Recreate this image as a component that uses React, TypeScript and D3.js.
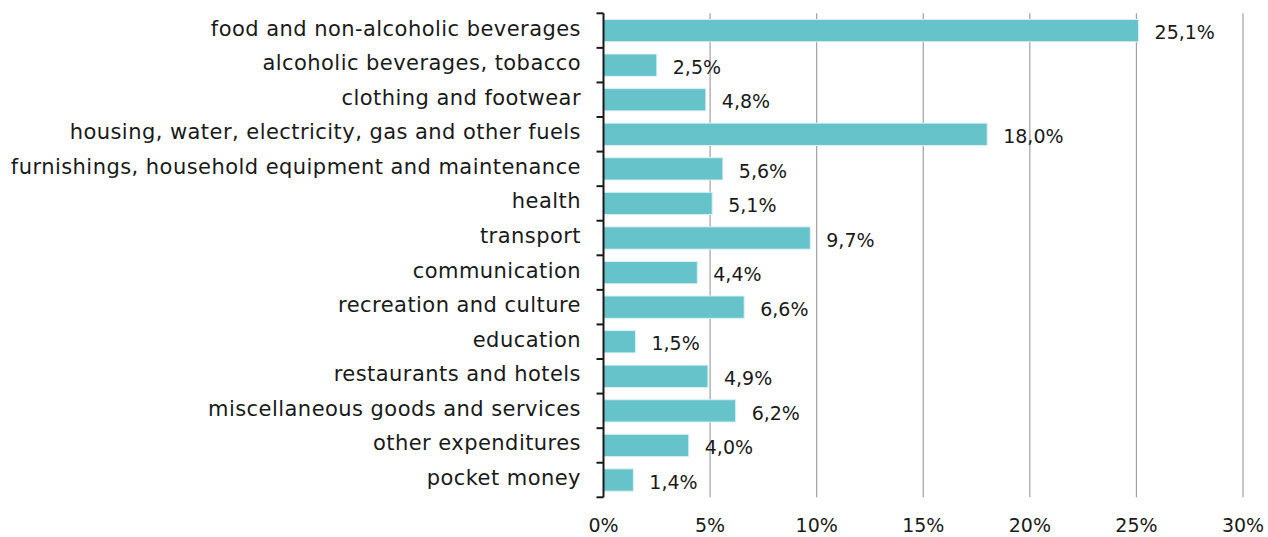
import React from "react";
import * as d3 from "d3";

const categories = [
  "food and non-alcoholic beverages",
  "alcoholic beverages, tobacco",
  "clothing and footwear",
  "housing, water, electricity, gas and other fuels",
  "furnishings, household equipment and maintenance",
  "health",
  "transport",
  "communication",
  "recreation and culture",
  "education",
  "restaurants and hotels",
  "miscellaneous goods and services",
  "other expenditures",
  "pocket money",
];
const values = [25.1, 2.5, 4.8, 18.0, 5.6, 5.1, 9.7, 4.4, 6.6, 1.5, 4.9, 6.2, 4.0, 1.4];
const xTicks = [0, 5, 10, 15, 20, 25, 30];

const W = 1268;
const H = 537;
const FONT = "'DejaVu Sans', sans-serif";

export default function App() {
  const x = d3.scaleLinear().domain([0, 30]).range([603.5, 1243]);
  const y = d3
    .scaleBand<string>()
    .domain(categories)
    .range([13.3, 497.3])
    .paddingInner(0.355)
    .paddingOuter(0.1775);
  const step = y.step();
  const y0 = 13.3;
  const fmt = (v: number) => v.toFixed(1).replace(".", ",") + "%";
  return (
    <svg width={W} height={H} style={{ position: "absolute", left: 0, top: 0, background: "#fff" }} fontFamily={FONT}>
      {xTicks.slice(1).map((t) => (
        <line key={t} x1={x(t)} x2={x(t)} y1={y0} y2={497.3} stroke="#a0a0a0" strokeWidth={1.2} />
      ))}
      {categories.map((c, i) => (
        <rect
          key={c}
          x={x(0)}
          y={y(c)!}
          width={x(values[i]) - x(0)}
          height={y.bandwidth()}
          fill="#67c3ca"
          stroke="#d9f0f2"
          strokeWidth={1}
        />
      ))}
      <line x1={x(0)} x2={x(0)} y1={y0} y2={497.3} stroke="#1a1a1a" strokeWidth={2} />
      {d3.range(categories.length + 1).map((i) => (
        <line key={i} x1={x(0) - 7} x2={x(0)} y1={y0 + i * step} y2={y0 + i * step} stroke="#1a1a1a" strokeWidth={2} />
      ))}
      {categories.map((c) => (
        <text
          key={c}
          x={581}
          y={y(c)! + y.bandwidth() / 2 + 5}
          textAnchor="end"
          fontSize={21}
          letterSpacing={0.45}
          fill="#1a1a1a"
        >
          {c}
        </text>
      ))}
      {categories.map((c, i) => (
        <text key={c} x={x(values[i]) + 16} y={y(c)! + y.bandwidth() / 2 + 8.7} textAnchor="start" fontSize={19} fill="#1a1a1a">
          {fmt(values[i])}
        </text>
      ))}
      {xTicks.map((t) => (
        <text key={t} x={x(t)} y={525} dy="0.35em" textAnchor="middle" fontSize={19} fill="#1a1a1a">
          {t + "%"}
        </text>
      ))}
    </svg>
  );
}
